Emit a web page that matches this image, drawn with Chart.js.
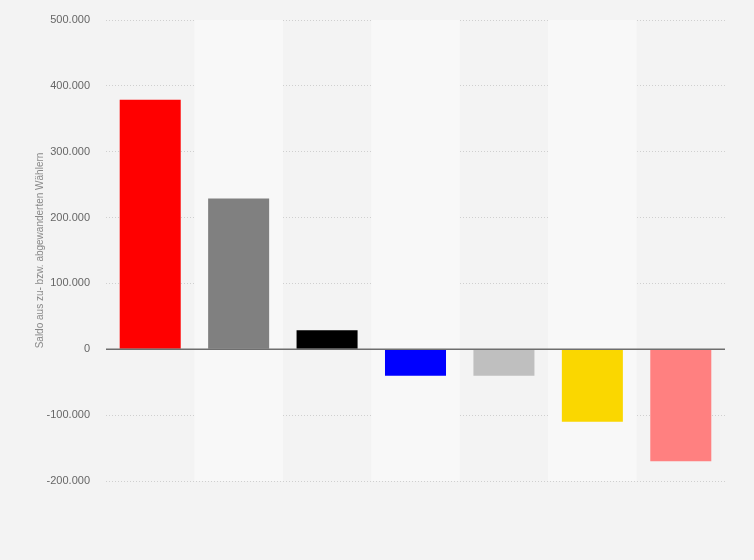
<!DOCTYPE html>
<html>
<head>
<meta charset="utf-8">
<script src="https://cdn.jsdelivr.net/npm/chart.js@4"></script>
<style>
  html, body { margin: 0; padding: 0; background: #f3f3f3; }
  #wrap { width: 754px; height: 560px; }
</style>
</head>
<body>
<div id="wrap"><canvas id="saldoChart"></canvas></div>
<script>
// Wählerwanderung - Saldo je Partei
const parties = ["SPD", "Nichtwähler", "CDU/CSU", "AfD", "Andere", "FDP", "Die Linke"];
const saldo = [379000, 229000, 29000, -40000, -40000, -110000, -170000];
const barColors = ["#ff0000", "#808080", "#000000", "#0000ff", "#bfbfbf", "#fad700", "#ff8080"];
const yTicks = [-200000, -100000, 0, 100000, 200000, 300000, 400000, 500000];

function formatDe(v) {
    const s = Math.abs(v).toString().replace(/\B(?=(\d{3})+(?!\d))/g, ".");
    return (v < 0 ? "-" : "") + s;
}

// alternating column bands behind the bars
const bandPlugin = {
    id: 'bands',
    beforeDatasetsDraw(chart) {
        const { ctx, chartArea, scales } = chart;
        const x = scales.x;
        const step = x.width / parties.length;
        ctx.save();
        ctx.fillStyle = '#f8f8f8';
        parties.forEach((p, i) => {
            if (i % 2 === 1) {
                const cx = x.getPixelForValue(i);
                ctx.fillRect(cx - step / 2, chartArea.top, step, chartArea.bottom - chartArea.top);
            }
        });
        ctx.restore();
    }
};

// solid line at zero
const zeroLinePlugin = {
    id: 'zeroLine',
    afterDatasetsDraw(chart) {
        const { ctx, chartArea, scales } = chart;
        const y0 = scales.y.getPixelForValue(0);
        ctx.save();
        ctx.strokeStyle = '#6e6e6e';
        ctx.lineWidth = 1.5;
        ctx.beginPath();
        ctx.moveTo(chartArea.left, y0);
        ctx.lineTo(chartArea.right, y0);
        ctx.stroke();
        ctx.restore();
    }
};

const ctx = document.getElementById('saldoChart').getContext('2d');
new Chart(ctx, {
    type: 'bar',
    data: {
        labels: parties,
        datasets: [{
            label: 'Saldo',
            data: saldo,
            backgroundColor: barColors,
            borderWidth: 0,
            categoryPercentage: 1,
            barPercentage: 0.69
        }]
    },
    options: {
        responsive: true,
        maintainAspectRatio: false,
        animation: false,
        layout: { padding: { left: 0, right: 29, top: 20, bottom: 79 } },
        plugins: {
            legend: { display: false },
            tooltip: { enabled: false }
        },
        scales: {
            x: {
                display: false
            },
            y: {
                min: -200000,
                max: 500000,
                afterBuildTicks(scale) {
                    scale.ticks = yTicks.map(v => ({ value: v }));
                },
                afterFit(scale) {
                    scale.width = 106;
                    scale.paddingTop = 0;
                    scale.paddingBottom = 0;
                },
                ticks: {
                    padding: 16,
                    color: '#666',
                    font: { family: '"Liberation Sans", Arial, sans-serif', size: 11 },
                    callback: v => formatDe(v)
                },
                grid: {
                    color: '#cfcfcf',
                    lineWidth: 1,
                    drawTicks: false
                },
                border: { display: false, dash: [1, 2] },
                title: {
                    display: true,
                    text: 'Saldo aus zu- bzw. abgewanderten Wählern',
                    color: '#888',
                    font: { family: '"Liberation Sans", Arial, sans-serif', size: 10 },
                    padding: { top: 34, bottom: 0 }
                }
            }
        }
    },
    plugins: [bandPlugin, zeroLinePlugin]
});
</script>
</body>
</html>
